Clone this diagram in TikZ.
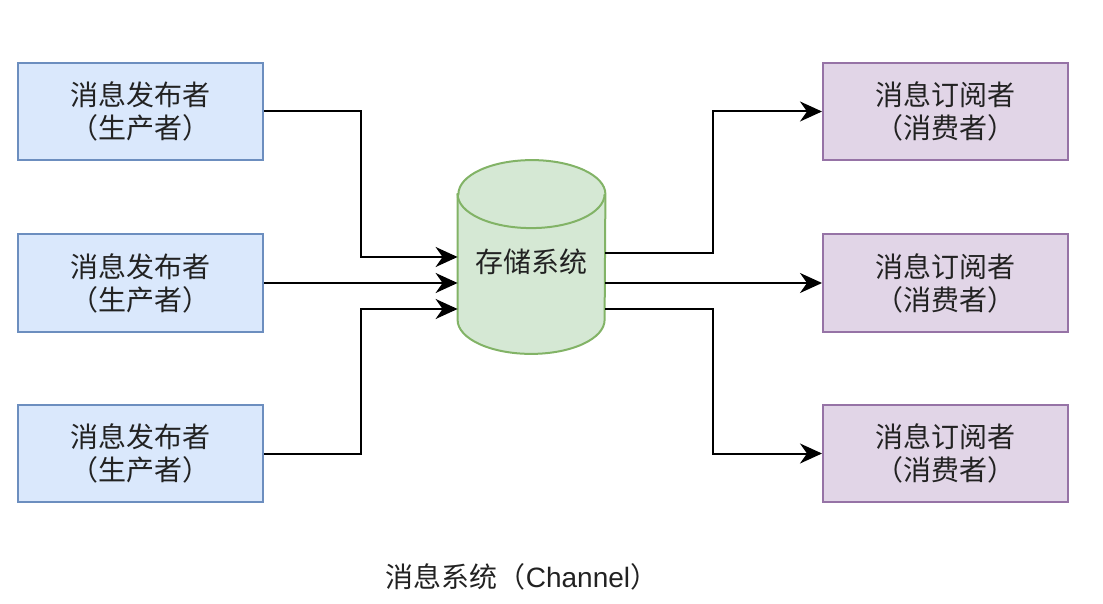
\documentclass[tikz,border=0pt]{standalone}
\usepackage{fontspec}
\setmainfont{Noto Sans CJK SC}
\newfontfamily\latinfont{Liberation Sans}
\usetikzlibrary{arrows.meta}
\definecolor{pubfill}{HTML}{DAE8FC}
\definecolor{publine}{HTML}{6C8EBF}
\definecolor{subfill}{HTML}{E1D5E7}
\definecolor{subline}{HTML}{9673A6}
\definecolor{dbfill}{HTML}{D5E8D4}
\definecolor{dbline}{HTML}{82B366}
\definecolor{ink}{HTML}{222222}
\tikzset{
  boxtext/.style={text=ink, font=\fontsize{14}{16.5}\selectfont},
  pubbox/.style={boxtext, draw=publine, fill=pubfill, line width=1pt, minimum width=122.5pt,
    minimum height=48.5pt, align=center, inner sep=0pt},
  subbox/.style={pubbox, draw=subline, fill=subfill},
  dbspot/.style={minimum width=73.5pt, minimum height=96.5pt, inner sep=0pt},
  dbskin/.style={draw=dbline, fill=dbfill, line width=1pt},
  dbcap/.style={x radius=36.75pt, y radius=17pt},
  flow/.style={-{Stealth[length=11pt,width=10pt,inset=3.5pt]}, line width=1pt},
}
\begin{document}
\begin{tikzpicture}[x=0.5pt,y=-0.5pt]
    \useasboundingbox (0,0) rectangle (1103,604);

    % publishers
    \node[pubbox] (p1) at (140.5,111.5) {消息发布者\\（生产者）};
    \node[pubbox] (p2) at (140.5,283) {消息发布者\\（生产者）};
    \node[pubbox] (p3) at (140.5,453.5) {消息发布者\\（生产者）};

    % storage
    \node[dbspot] (store) at (531.5,257) {};
    \draw[dbskin] ([yshift=-17pt]store.north west) -- ([yshift=17pt]store.south west)
      arc[start angle=180, end angle=360, dbcap] -- ([yshift=-17pt]store.north east)
      arc[start angle=0, end angle=180, dbcap] -- cycle;
    \draw[dbskin, fill=none] ([yshift=-17pt]store.north west) arc[start angle=180, end angle=360, dbcap];
    \node[boxtext] (storelbl) at ([yshift=-2.5pt]store.center) {存储系统};

    % subscribers
    \node[subbox] (s1) at (945.5,111.5) {消息订阅者\\（消费者）};
    \node[subbox] (s2) at (945.5,283) {消息订阅者\\（消费者）};
    \node[subbox] (s3) at (945.5,453.5) {消息订阅者\\（消费者）};

    % publishers to storage
    \draw[flow] (p1.east) -- ++(97,0) |- (store.west);
    \draw[flow] (p2.east) -- ([yshift=-13pt]store.west);
    \draw[flow] (p3.east) -- ++(97,0) |- ([yshift=-26pt]store.west);

    % storage to subscribers
    \draw[flow] ([yshift=2pt]store.east) -- ++(108,0) |- (s1.west);
    \draw[flow] ([yshift=-13pt]store.east) -- (s2.west);
    \draw[flow] ([yshift=-26pt]store.east) -- ++(108,0) |- (s3.west);

    % caption
    \node[boxtext] (cap) at (522,577) {消息系统（{\latinfont Channel}）};
  \end{tikzpicture}
\end{document}
